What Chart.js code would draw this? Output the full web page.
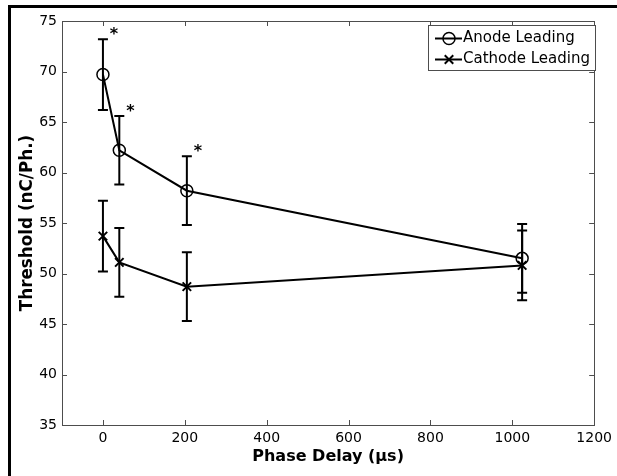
<!DOCTYPE html>
<html>
<head>
<meta charset="utf-8">
<script src="https://cdn.jsdelivr.net/npm/chart.js@4.4.1/dist/chart.umd.min.js"></script>
<style>
  html, body { margin: 0; padding: 0; background: #fff; }
  #wrap { position: relative; width: 617px; height: 476px; overflow: hidden; }
  #frame { position: absolute; left: 8px; top: 5px; width: 700px; height: 600px;
           border-top: 3px solid #000; border-left: 3px solid #000; }
  canvas { position: absolute; left: 0; top: 0; }
</style>
</head>
<body>
<div id="wrap">
  <div id="frame"></div>
  <canvas id="chart" width="617" height="476"></canvas>
</div>
<script>
// phase delay (us) and thresholds
var delays = [0, 40, 205, 1024];
var anodeMean = [69.7, 62.2, 58.2, 51.5];
var anodeErr = [3.5, 3.4, 3.4, 3.4];
var cathodeMean = [53.7, 51.1, 48.7, 50.8];
var cathodeErr = [3.5, 3.4, 3.4, 3.45];
var significant = [true, true, true, false];
var seriesNames = ["Anode Leading", "Cathode Leading"];
var xTicks = [0, 200, 400, 600, 800, 1000, 1200];
var yTicks = [35, 40, 45, 50, 55, 60, 65, 70, 75];

var FONT = "'DejaVu Sans', Verdana, sans-serif";
var AXIS = "#4d4d4d";

function points(means) {
  return delays.map(function (d, i) { return { x: d, y: means[i] }; });
}

// error bars, asterisks, matlab style box + inward ticks, legend, axis titles
var figPlugin = {
  id: "fig",
  beforeDatasetsDraw: function (chart) {
    var ctx = chart.ctx, xs = chart.scales.x, ys = chart.scales.y;
    ctx.save();
    ctx.strokeStyle = "#000";
    ctx.lineWidth = 2;
    chart.data.datasets.forEach(function (ds) {
      ds.data.forEach(function (p, i) {
        var px = xs.getPixelForValue(p.x);
        var top = ys.getPixelForValue(p.y + ds.err[i]);
        var bot = ys.getPixelForValue(p.y - ds.err[i]);
        ctx.beginPath();
        ctx.moveTo(px, top); ctx.lineTo(px, bot);
        ctx.moveTo(px - 5, top); ctx.lineTo(px + 5, top);
        ctx.moveTo(px - 5, bot); ctx.lineTo(px + 5, bot);
        ctx.stroke();
      });
    });
    ctx.restore();
  },
  afterDraw: function (chart) {
    var ctx = chart.ctx, xs = chart.scales.x, ys = chart.scales.y, a = chart.chartArea;
    ctx.save();

    // box
    ctx.strokeStyle = AXIS;
    ctx.lineWidth = 1;
    ctx.strokeRect(Math.round(a.left) + 0.5, Math.round(a.top) + 0.5,
      Math.round(a.right - a.left), Math.round(a.bottom - a.top));
    ctx.beginPath();
    xTicks.forEach(function (v) {
      var px = Math.round(xs.getPixelForValue(v)) + 0.5;
      ctx.moveTo(px, a.bottom); ctx.lineTo(px, a.bottom - 5);
      ctx.moveTo(px, a.top); ctx.lineTo(px, a.top + 5);
    });
    yTicks.forEach(function (v) {
      var py = Math.round(ys.getPixelForValue(v)) + 0.5;
      ctx.moveTo(a.left, py); ctx.lineTo(a.left + 5, py);
      ctx.moveTo(a.right, py); ctx.lineTo(a.right - 5, py);
    });
    ctx.stroke();

    // significance stars on anode series
    var anode = chart.data.datasets[0];
    ctx.fillStyle = "#000";
    ctx.font = "bold 16px " + FONT;
    ctx.textAlign = "center";
    ctx.textBaseline = "alphabetic";
    anode.data.forEach(function (p, i) {
      if (!significant[i]) return;
      var px = xs.getPixelForValue(p.x);
      var top = ys.getPixelForValue(p.y + anode.err[i]);
      ctx.fillText("*", px + 11, top);
    });

    // legend
    var lx = 428.5, ly = 25.5, lw = 167, lh = 45;
    ctx.fillStyle = "#fff";
    ctx.fillRect(lx, ly, lw, lh);
    ctx.strokeStyle = AXIS;
    ctx.lineWidth = 1;
    ctx.strokeRect(lx, ly, lw, lh);
    chart.data.datasets.forEach(function (ds, i) {
      var ry = 38.5 + i * 21;
      ctx.strokeStyle = "#000";
      ctx.lineWidth = 2;
      ctx.beginPath();
      ctx.moveTo(435, ry); ctx.lineTo(462, ry);
      ctx.stroke();
      ctx.fillStyle = "rgba(0,0,0,0)";
      ctx.lineWidth = ds.pointBorderWidth;
      Chart.helpers.drawPoint(ctx, { pointStyle: ds.pointStyle, radius: ds.pointRadius, rotation: 0, borderWidth: ds.pointBorderWidth }, 449, ry);
      ctx.fillStyle = "#000";
      ctx.font = "15px " + FONT;
      ctx.textAlign = "left";
      ctx.textBaseline = "middle";
      ctx.fillText(ds.label, 463, ry);
    });

    // axis titles
    ctx.fillStyle = "#000";
    ctx.font = "bold 16px " + FONT;
    ctx.textAlign = "center";
    ctx.textBaseline = "middle";
    ctx.fillText("Phase Delay (\u03bcs)", (a.left + a.right) / 2, 457);
    ctx.font = "bold 16.8px " + FONT;
    ctx.translate(28, (a.top + a.bottom) / 2);
    ctx.rotate(-Math.PI / 2);
    ctx.fillText("Threshold (nC/Ph.)", 0, 0);
    ctx.restore();
  }
};

function plain(v) { return String(v); }

new Chart(document.getElementById("chart"), {
  type: "line",
  data: {
    datasets: [
      {
        label: seriesNames[0],
        data: points(anodeMean),
        err: anodeErr,
        borderColor: "#000",
        borderWidth: 2,
        tension: 0,
        pointStyle: "circle",
        pointRadius: 6,
        pointBorderWidth: 1.5,
        pointBorderColor: "#000",
        pointBackgroundColor: "rgba(0,0,0,0)"
      },
      {
        label: seriesNames[1],
        data: points(cathodeMean),
        err: cathodeErr,
        borderColor: "#000",
        borderWidth: 2,
        tension: 0,
        pointStyle: "crossRot",
        pointRadius: 6,
        pointBorderWidth: 2,
        pointBorderColor: "#000",
        pointBackgroundColor: "rgba(0,0,0,0)"
      }
    ]
  },
  options: {
    responsive: false,
    animation: false,
    layout: { padding: { top: 21, right: 18, left: 0, bottom: 0 } },
    plugins: { legend: { display: false }, tooltip: { enabled: false } },
    scales: {
      x: {
        type: "linear",
        min: -100,
        max: 1200,
        afterBuildTicks: function (s) { s.ticks = xTicks.map(function (v) { return { value: v }; }); },
        afterFit: function (s) { s.height = 51; },
        grid: { display: false, drawTicks: false },
        border: { display: false },
        ticks: { color: "#000", font: { family: FONT, size: 14 }, padding: 5, maxRotation: 0, autoSkip: false, callback: plain }
      },
      y: {
        type: "linear",
        min: 35,
        max: 75,
        afterBuildTicks: function (s) { s.ticks = yTicks.map(function (v) { return { value: v }; }); },
        afterFit: function (s) { s.width = 62; },
        grid: { display: false, drawTicks: false },
        border: { display: false },
        ticks: { color: "#000", font: { family: FONT, size: 14 }, padding: 5, autoSkip: false, callback: plain }
      }
    }
  },
  plugins: [figPlugin]
});
</script>
</body>
</html>
